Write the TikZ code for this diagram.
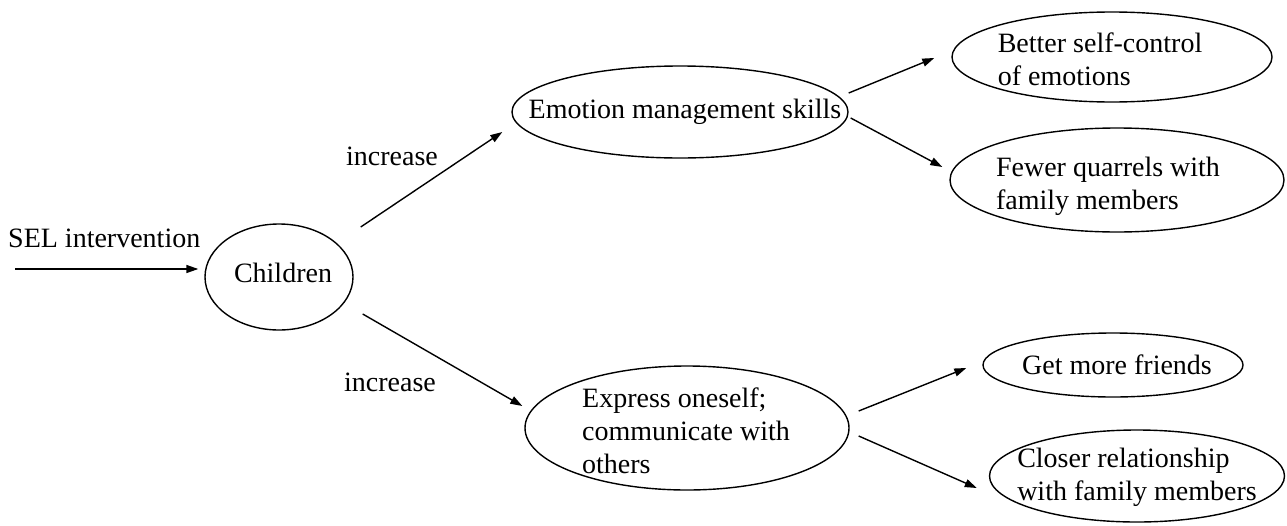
\documentclass[tikz,border=0pt]{standalone}
\usepackage{fontspec}
\setmainfont{Liberation Serif}
\usetikzlibrary{shapes.geometric,arrows.meta}
\tikzset{
  oval/.style={ellipse, draw, line width=1.4pt, inner sep=0pt},
  conn/.style={line width=1.4pt, -{Triangle[length=12pt,width=8pt]}},
  lbl/.style={font=\fontsize{28}{33}\selectfont, inner sep=0pt, align=left}
}
\begin{document}
\begin{tikzpicture}[x=1pt,y=-1pt]
\useasboundingbox (0,0) rectangle (1287,525);
% nodes
\node[oval, minimum width=148pt, minimum height=106pt,
  label={[lbl, xshift=4pt, yshift=4pt]center:Children}] (child) at (279,277) {};
\node[oval, minimum width=336pt, minimum height=92pt,
  label={[lbl, xshift=5pt]center:Emotion management skills}] (emo) at (680,112) {};
\node[oval, minimum width=324pt, minimum height=124pt,
  label={[lbl, xshift=-1pt, yshift=-3pt]center:Express oneself;\\communicate with\\others}] (express) at (687,428) {};
\node[oval, minimum width=320pt, minimum height=90pt,
  label={[lbl, xshift=-12pt, yshift=-2pt]center:Better self-control\\of emotions}] (better) at (1112,57) {};
\node[oval, minimum width=334pt, minimum height=104pt,
  label={[lbl, xshift=-9pt, yshift=-6pt]center:Fewer quarrels with\\family members}] (fewer) at (1117,180) {};
\node[oval, minimum width=260pt, minimum height=64pt,
  label={[lbl, xshift=4pt]center:Get more friends}] (friends) at (1113,365) {};
\node[oval, minimum width=295pt, minimum height=92pt,
  label={[lbl, xshift=0pt, yshift=-1pt]center:Closer relationship\\with family members}] (closer) at (1137,476) {};
% labels
\node[lbl, anchor=base west] (sel) at (8,247) {SEL intervention};
\node[lbl, anchor=base] (inc1) at (392,165) {increase};
\node[lbl, anchor=base] (inc2) at (390,391) {increase};
\coordinate (start) at (15,269);
% connectors
\draw[conn] (start) -- ([shift={(-6,-8)}]child.west);
\draw[conn] ([shift={(7,-50)}]child.east) -- ([shift={(-9,20)}]emo.west);
\draw[conn] ([shift={(9,37)}]child.east) -- ([shift={(-2,-22)}]express.west);
\draw[conn] ([shift={(0,-19)}]emo.east) -- ([shift={(-17,1)}]better.west);
\draw[conn] ([shift={(2,6)}]emo.east) -- ([shift={(-7,-13)}]fewer.west);
\draw[conn] ([shift={(9,-17)}]express.east) -- ([shift={(-16,3)}]friends.west);
\draw[conn] ([shift={(9,8)}]express.east) -- ([shift={(-12,12)}]closer.west);
\end{tikzpicture}
\end{document}
